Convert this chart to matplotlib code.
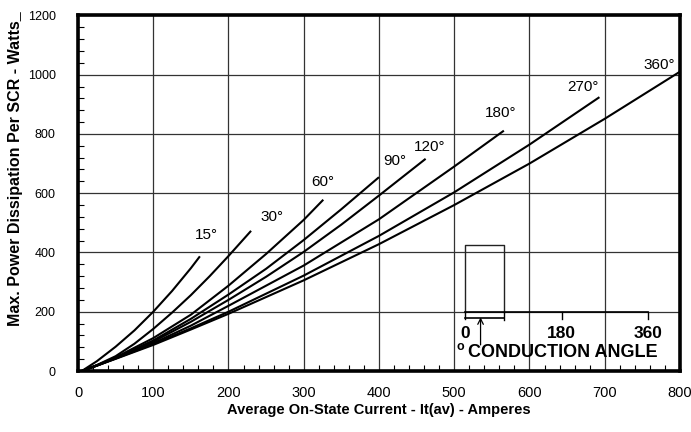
import matplotlib
matplotlib.use("Agg")
import matplotlib.pyplot as plt
from matplotlib.ticker import MultipleLocator

plt.rcParams['font.family'] = ['Liberation Sans', 'DejaVu Sans']

# Data (x = average current A, y = power W)
angles = ["15°", "30°", "60°", "90°", "120°", "180°", "270°", "360°"]
x15 = [5, 25, 50, 75, 100, 125, 150, 162]
y15 = [0, 33, 82, 137, 200, 270, 347, 387]
x30 = [5, 25, 50, 75, 100, 125, 150, 175, 200, 230]
y30 = [0, 20, 50, 92, 142, 197, 256, 320, 388, 473]
x60 = [5, 25, 50, 100, 150, 200, 250, 300, 326]
y60 = [0, 19, 46, 111, 190, 288, 395, 510, 578]
x90 = [5, 25, 50, 100, 150, 200, 250, 300, 350, 400]
y90 = [0, 19, 44, 103, 176, 258, 345, 442, 546, 654]
x120 = [5, 25, 50, 100, 150, 200, 250, 300, 350, 400, 462]
y120 = [0, 19, 43, 99, 166, 240, 318, 402, 494, 592, 716]
x180 = [5, 25, 50, 100, 150, 200, 300, 400, 500, 566]
y180 = [0, 18, 43, 94, 153, 220, 356, 512, 690, 811]
x270 = [5, 25, 50, 100, 150, 200, 300, 400, 500, 600, 693]
y270 = [0, 18, 42, 91, 144, 200, 322, 456, 603, 764, 924]
x360 = [5, 25, 50, 100, 150, 200, 300, 400, 500, 600, 700, 800]
y360 = [0, 18, 41, 88, 140, 193, 306, 428, 560, 700, 851, 1010]

series_x = [x15, x30, x60, x90, x120, x180, x270, x360]
series_y = [y15, y30, y60, y90, y120, y180, y270, y360]
label_pos = [(171, 460), (258, 521), (325, 639), (421, 710),
             (467, 757), (562, 870), (671, 960), (772, 1033)]

xticks = [0, 100, 200, 300, 400, 500, 600, 700, 800]
yticks = [0, 200, 400, 600, 800, 1000, 1200]

fig = plt.figure(figsize=(6.91, 4.32), dpi=100)
ax = fig.add_axes([0.1129, 0.1412, 0.8711, 0.8232])
ax.set_xlim(0, 800)
ax.set_ylim(0, 1200)
ax.set_xticks(xticks)
ax.set_yticks(yticks)
ax.xaxis.set_minor_locator(MultipleLocator(20))
ax.yaxis.set_minor_locator(MultipleLocator(40))
ax.grid(True, which='major', color='#333333', linewidth=0.9)
ax.set_axisbelow(True)
ax.tick_params(which='major', direction='in', length=0)
ax.tick_params(axis='x', which='major', labelsize=10.5, pad=11)
ax.tick_params(axis='y', which='major', labelsize=9, pad=16)
ax.tick_params(which='minor', direction='in', length=4, width=0.8)
for s in ax.spines.values():
    s.set_linewidth(2.6)

for xs, ys in zip(series_x, series_y):
    ax.plot(xs, ys, color='black', linewidth=1.5, solid_capstyle='butt')
for lab, (lx, ly) in zip(angles, label_pos):
    ax.text(lx, ly, lab, fontsize=11, ha='center', va='center', color='black')

ax.set_xlabel("Average On-State Current - It(av) - Amperes", fontsize=10.5,
              fontweight='bold', labelpad=2)
ax.set_ylabel("Max. Power Dissipation Per SCR - Watts_", fontsize=11.5,
              fontweight='bold')
ax.yaxis.set_label_coords(-0.091, 0.57)

# Inset conduction-angle diagram (annotation)
ax.plot([514, 514, 566, 566], [198, 425, 425, 198], color='#222222', linewidth=1.0)
ax.plot([514, 758], [198, 198], color='black', linewidth=1.2)
for tx in [514, 643, 758]:
    ax.plot([tx, tx], [198, 176], color='black', linewidth=1.0)
ax.plot([514, 566], [178, 178], color='black', linewidth=1.2)
ax.plot([566, 566], [198, 172], color='black', linewidth=1.0)
ax.annotate("", xy=(535, 181), xytext=(535, 88),
            arrowprops=dict(arrowstyle='->', color='black', lw=0.9, shrinkA=0, shrinkB=0))
for tx, tl in zip([515, 643, 758], ["0", "180", "360"]):
    ax.text(tx, 128, tl, fontsize=12.5, fontweight='bold', ha='center', va='center')
ax.text(508, 80, "o", fontsize=9, fontweight='bold', ha='center', va='center')
ax.text(518, 62, "CONDUCTION ANGLE", fontsize=13, fontweight='bold', ha='left', va='center')

fig.savefig("out.png", dpi=100)
